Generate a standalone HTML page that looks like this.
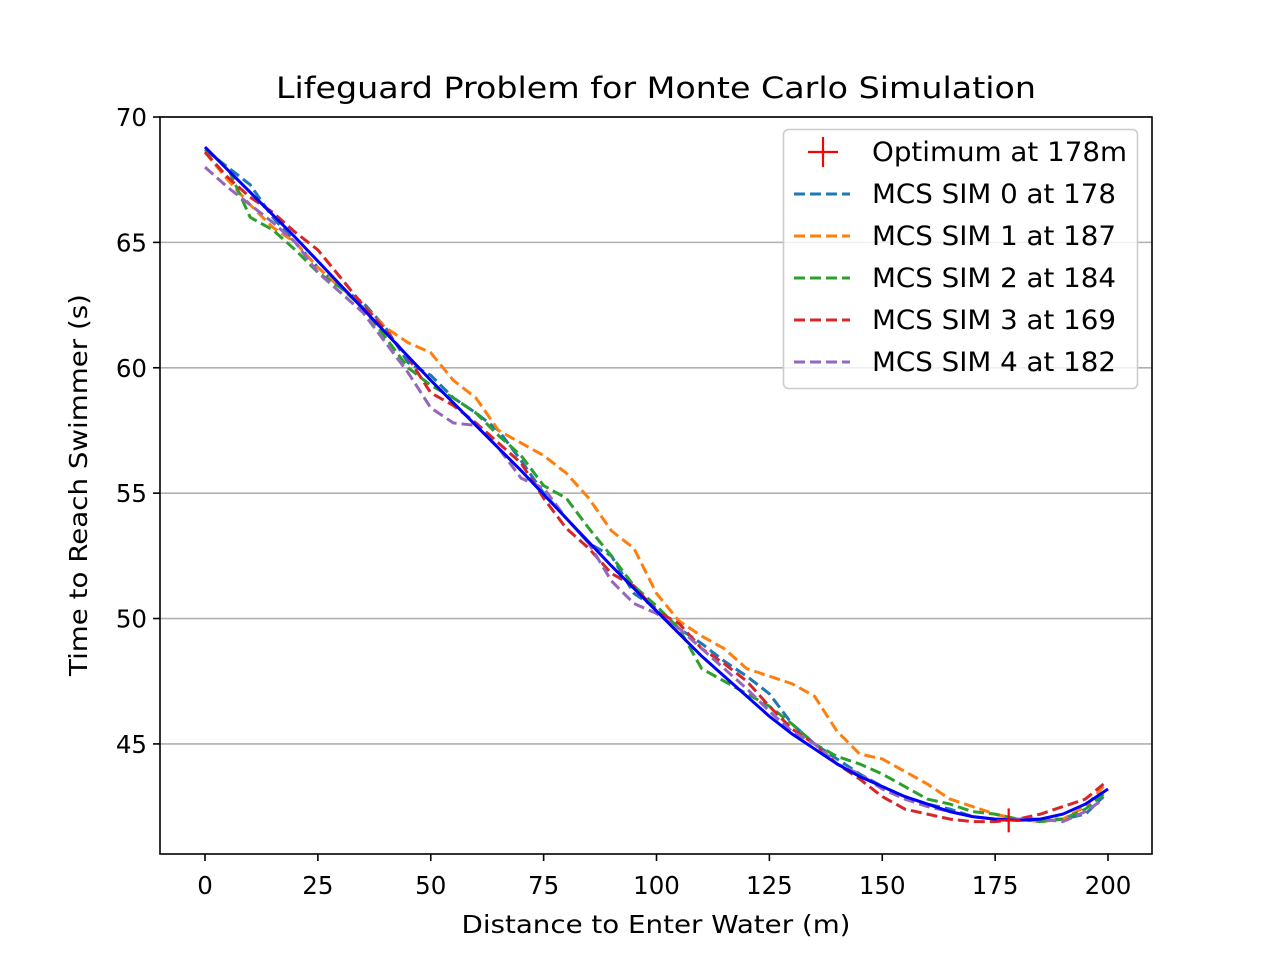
<!DOCTYPE html>
<html><head><meta charset="utf-8"><style>body{margin:0;background:#fff}svg{display:block;font-family:"DejaVu Sans","Liberation Sans",sans-serif}</style></head>
<body>
<svg id="chart" width="1280" height="960" viewBox="0 0 1280 960" xmlns="http://www.w3.org/2000/svg">
<rect width="1280" height="960" fill="#fff"/>
<g id="grid"></g><g id="series"></g><g id="axes"></g><g id="legend"></g>
</svg>
<script>
const xs = [0,5,10,15,20,25,30,35,40,45,50,55,60,65,70,75,80,85,90,95,100,105,110,115,120,125,130,135,140,145,150,155,160,165,170,175,180,185,190,195,199];
const xsMean = [0,5,10,15,20,25,30,35,40,45,50,55,60,65,70,75,80,85,90,95,100,105,110,115,120,125,130,135,140,145,150,155,160,165,170,175,180,185,190,195,200];
const meanT = [68.8,67.9,67.0,66.1,65.2,64.25,63.3,62.35,61.4,60.45,59.5,58.6,57.7,56.8,55.9,54.95,54.0,53.05,52.1,51.2,50.3,49.4,48.5,47.7,46.9,46.1,45.4,44.8,44.2,43.7,43.3,42.9,42.6,42.3,42.1,42.0,41.95,42.0,42.2,42.6,43.2];
const sim0 = [68.7,68.0,67.3,66.0,65.0,64.0,63.2,62.6,61.6,60.2,59.7,58.8,58.2,57.5,56.3,55.0,54.0,53.0,52.5,51.0,50.4,49.6,49.0,48.3,47.7,47.0,45.8,45.0,44.4,43.8,43.3,42.9,42.6,42.4,42.1,42.0,42.0,42.0,42.0,42.2,42.9];
const sim1 = [68.6,67.5,66.5,65.6,65.0,64.0,63.2,62.5,61.6,61.0,60.6,59.5,58.8,57.5,57.0,56.5,55.8,54.8,53.5,52.8,51.0,49.9,49.3,48.8,48.0,47.7,47.4,46.9,45.5,44.6,44.4,43.9,43.4,42.8,42.5,42.2,42.0,41.9,42.0,42.5,43.3];
const sim2 = [68.7,68.0,66.0,65.5,64.7,63.8,63.2,62.4,61.2,60.0,59.3,58.8,58.2,57.3,56.5,55.3,54.8,53.6,52.5,51.3,50.5,49.6,48.0,47.5,47.0,46.5,45.8,45.0,44.5,44.2,43.8,43.3,42.8,42.6,42.3,42.2,42.0,41.9,42.0,42.4,43.0];
const sim3 = [68.6,67.6,66.8,66.2,65.4,64.7,63.6,62.5,61.5,60.4,59.0,58.5,57.8,57.0,56.2,54.8,53.6,52.8,51.8,51.3,50.3,49.8,48.8,48.2,47.5,46.5,45.6,45.0,44.2,43.6,42.9,42.4,42.2,42.0,41.9,41.9,42.0,42.2,42.5,42.8,43.4];
const sim4 = [68.0,67.2,66.5,65.8,65.0,63.8,63.0,62.2,61.0,59.8,58.4,57.8,57.7,56.8,55.6,55.2,54.0,53.0,51.5,50.6,50.2,49.6,48.8,48.0,47.2,46.3,45.5,45.0,44.2,43.8,43.2,42.8,42.5,42.3,42.1,42.0,42.0,42.0,41.9,42.3,42.8];
const simLabels = ["MCS SIM 0 at 178","MCS SIM 1 at 187","MCS SIM 2 at 184","MCS SIM 3 at 169","MCS SIM 4 at 182"];
const optimumX = [178], optimumT = [41.95];
const xTicks = [0,25,50,75,100,125,150,175,200];
const yTicks = [45,50,55,60,65,70];

const NS="http://www.w3.org/2000/svg";
const L=160,R=1152,T=117,B=854;
const xMin=-9.967,xMax=209.74,yMin=40.61,yMax=70;
const X=v=>L+(v-xMin)/(xMax-xMin)*(R-L);
const Y=v=>B-(v-yMin)/(yMax-yMin)*(B-T);
function mk(tag,attrs,parent){const e=document.createElementNS(NS,tag);for(const k in attrs)e.setAttribute(k,attrs[k]);parent.appendChild(e);return e;}
const grid=document.getElementById('grid'),ser=document.getElementById('series'),ax=document.getElementById('axes'),leg=document.getElementById('legend');
yTicks.forEach(t=>{const g=mk('line',{x1:L,x2:R,y1:Y(t),y2:Y(t),stroke:'#b0b0b0','stroke-width':1.6},grid);

});
const colors=['#1f77b4','#ff7f0e','#2ca02c','#d62728','#9467bd'];
[sim0,sim1,sim2,sim3,sim4].forEach((s,i)=>{
 const p=mk('polyline',{points:s.map((v,j)=>X(xs[j])+','+Y(v)).join(' '),fill:'none',stroke:colors[i],'stroke-width':3,'stroke-dasharray':'11,5'},ser);
 
 
});
const m=mk('polyline',{points:meanT.map((v,j)=>X(xsMean[j])+','+Y(v)).join(' '),fill:'none',stroke:'#0000ff','stroke-width':3},ser);


const ox=X(optimumX[0]),oy=Y(optimumT[0]);
const op=mk('path',{d:`M${ox-12},${oy}H${ox+12}M${ox},${oy-12}V${oy+12}`,stroke:'#ff0000','stroke-width':2.2},ser);


const fr=mk('rect',{x:L,y:T,width:R-L,height:B-T,fill:'none',stroke:'#000','stroke-width':1.6},ax);


xTicks.forEach(t=>{mk('line',{x1:X(t),x2:X(t),y1:B,y2:B+7,stroke:'#000','stroke-width':1.6},ax);
 const tx=mk('text',{x:X(t),y:B+40,'text-anchor':'middle','font-size':24.5},ax);tx.textContent=t;
 
 });
yTicks.forEach(t=>{mk('line',{x1:L-7,x2:L,y1:Y(t),y2:Y(t),stroke:'#000','stroke-width':1.6},ax);
 const tx=mk('text',{x:L-13,y:Y(t)+9,'text-anchor':'end','font-size':24.5},ax);tx.textContent=t;
 
 });
const tt=mk('text',{x:656,y:98,'text-anchor':'middle','font-size':29.5,textLength:760,lengthAdjust:'spacingAndGlyphs'},ax);tt.textContent='Lifeguard Problem for Monte Carlo Simulation';


const xl=mk('text',{x:656,y:933,'text-anchor':'middle','font-size':24.5,textLength:389,lengthAdjust:'spacingAndGlyphs'},ax);xl.textContent='Distance to Enter Water (m)';


const yl=mk('text',{x:0,y:0,'text-anchor':'middle','font-size':24.5,textLength:382,lengthAdjust:'spacingAndGlyphs',transform:'translate(87,485) rotate(-90)'},ax);yl.textContent='Time to Reach Swimmer (s)';


const lb=mk('rect',{x:783.5,y:129.5,width:354,height:259,rx:5,fill:'#fff','fill-opacity':0.8,stroke:'#cccccc','stroke-width':1.6},leg);


mk('path',{d:'M808,152H838M823,137V167',stroke:'#ff0000','stroke-width':2.2},leg);
const t0=mk('text',{x:872,y:161,'font-size':27,textLength:255,lengthAdjust:'spacingAndGlyphs'},leg);t0.textContent='Optimum at 178m';


simLabels.forEach((s,i)=>{const y=194+42*i;
 mk('line',{x1:794,x2:850,y1:y,y2:y,stroke:colors[i],'stroke-width':3,'stroke-dasharray':'11,5'},leg);
 const tx=mk('text',{x:872,y:y+9,'font-size':27,textLength:244,lengthAdjust:'spacingAndGlyphs'},leg);tx.textContent=s;
 
 });
</script>
</body></html>
